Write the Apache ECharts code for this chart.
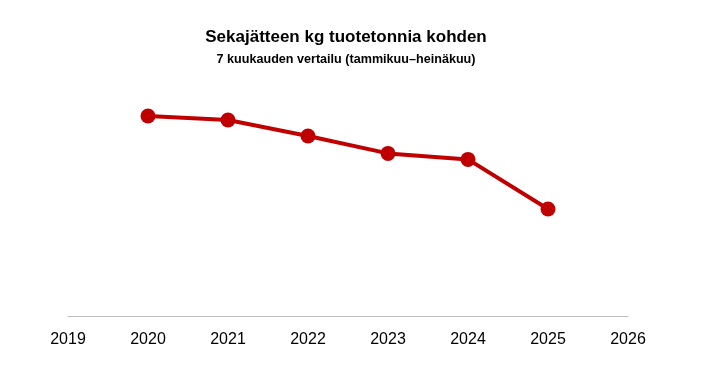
<!DOCTYPE html>
<html><head><meta charset="utf-8">
<script src="https://cdn.jsdelivr.net/npm/echarts@6/dist/echarts.min.js"></script>
<style>html,body{margin:0;padding:0;background:#fff}#c{width:706px;height:380px}</style>
</head><body><div id="c"></div>
<script>
const years = [2020, 2021, 2022, 2023, 2024, 2025];
const values = [10.0, 9.8, 9.0, 8.13, 7.83, 5.35];
const titleText = 'Sekajätteen kg tuotetonnia kohden';
const subtitleText = '7 kuukauden vertailu (tammikuu–heinäkuu)';

const chart = echarts.init(document.getElementById('c'));
chart.setOption({
  animation: false,
  backgroundColor: '#fff',
  title: {
    text: titleText,
    subtext: subtitleText,
    left: 341,
    textAlign: 'center',
    top: 24,
    itemGap: 7,
    textStyle: {fontFamily: 'Liberation Sans', fontWeight: 'bold', fontSize: 17, color: '#000'},
    subtextStyle: {fontFamily: 'Liberation Sans', fontWeight: 'bold', fontSize: 12.6, color: '#000'}
  },
  grid: {left: 68, right: 78, top: 76, bottom: 64, containLabel: false},
  xAxis: {
    type: 'value', min: 2019, max: 2026, interval: 1,
    splitLine: {show: false},
    axisTick: {show: false},
    axisLine: {show: true, lineStyle: {color: '#BFBFBF', width: 1}},
    axisLabel: {margin: 16, color: '#000', fontFamily: 'Liberation Sans', fontSize: 16, formatter: v => String(v)}
  },
  yAxis: {
    type: 'value', min: 0, max: 12,
    show: false
  },
  series: [{
    type: 'line',
    data: years.map((y, i) => [y, values[i]]),
    symbol: 'circle', symbolSize: 15,
    lineStyle: {color: '#C00000', width: 4},
    itemStyle: {color: '#C00000'}
  }]
});
</script></body></html>
